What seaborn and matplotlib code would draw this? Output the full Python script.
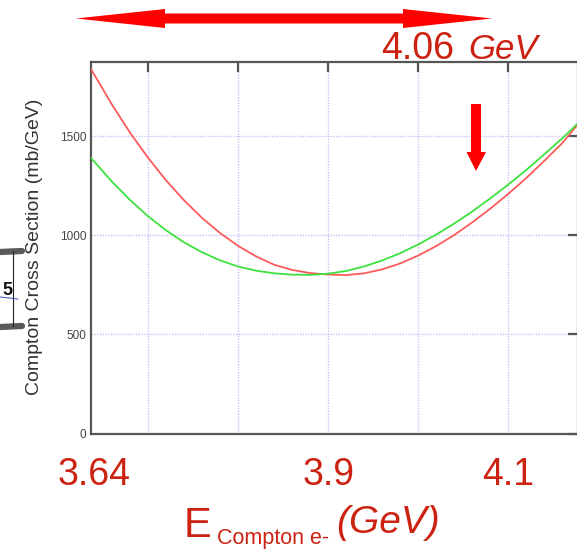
import matplotlib
matplotlib.use("Agg")
import matplotlib.pyplot as plt
from matplotlib.patches import Polygon
from matplotlib.lines import Line2D
import seaborn as sns
import pandas as pd

# ---- data ----
energy = [3.636, 3.66, 3.68, 3.70, 3.72, 3.74, 3.76, 3.78, 3.80, 3.82, 3.84, 3.86,
          3.88, 3.90, 3.92, 3.94, 3.96, 3.98, 4.00, 4.02, 4.04, 4.06, 4.08, 4.10,
          4.12, 4.14, 4.16, 4.176]
red_curve = [1845, 1660, 1519, 1392, 1278, 1177, 1088, 1012, 947, 894, 852, 826,
             810, 803, 800, 809, 829, 859, 899, 947, 1003, 1067, 1136, 1211,
             1291, 1378, 1468, 1556]
green_curve = [1395, 1271, 1179, 1097, 1026, 965, 915, 874, 843, 822, 809, 802,
               801, 807, 821, 844, 874, 911, 955, 1005, 1061, 1122, 1188, 1258,
               1332, 1411, 1492, 1562]
series_names = ["red", "green"]
xtick_marks = [3.7, 3.8, 3.9, 4.0, 4.1]
xtick_red_labels = [3.64, 3.9, 4.1]
yticks = [0, 500, 1000, 1500]
ylabel = "Compton Cross Section (mb/GeV)"
marker_text = "4.06"

df = pd.DataFrame({
    "energy": energy * 2,
    "xsec": red_curve + green_curve,
    "series": [series_names[0]] * len(energy) + [series_names[1]] * len(energy),
})

W, H = 577, 549
sns.set_theme(style="white")
plt.rcParams["font.family"] = ["Liberation Sans", "DejaVu Sans"]

fig = plt.figure(figsize=(W / 100, H / 100), dpi=100)

def fx(x):
    return x / W

def fy(y):
    return 1 - y / H

ax_left, ax_right, ax_top, ax_bot = 90.7, 577.6, 62.0, 433.5
ax = fig.add_axes([fx(ax_left), fy(ax_bot), (ax_right - ax_left) / W, (ax_bot - ax_top) / H])

sns.lineplot(data=df, x="energy", y="xsec", hue="series",
             palette={"red": "#ff5a5a", "green": "#3ee23e"},
             linewidth=1.3, legend=False, ax=ax, zorder=3)

ax.set_xlim(3.6363, 4.1767)
ax.set_ylim(0, 1876)

ax.set_xticks(xtick_marks)
ax.set_xticklabels([])
ax.set_xticks(xtick_red_labels, minor=True)
ax.set_xticklabels([f"{v:g}" for v in xtick_red_labels], minor=True)
ax.xaxis.remove_overlapping_locs = False
ax.set_yticks(yticks)
ax.set_yticklabels([str(v) for v in yticks])

ax.tick_params(axis="both", which="major", direction="in", length=7, width=1.6,
               color="#555555", top=True, right=True, labelsize=8.5,
               labelcolor="#444444", pad=3)
ax.tick_params(axis="x", which="minor", length=0, labelsize=27,
               labelcolor="#cc2211", pad=17, bottom=True, top=False)

ax.grid(True, which="major", color="#c4c4f4", linestyle=(0, (1, 1)), linewidth=1.0)
for s in ax.spines.values():
    s.set_visible(True)
    s.set_color("#555555")
    s.set_linewidth(1.6)

ax.set_xlabel("")
ax.set_ylabel(ylabel, fontsize=14, color="#333333", va="center")
ax.yaxis.set_label_coords((35 - ax_left) / (ax_right - ax_left),
                          (ax_bot - 247) / (ax_bot - ax_top))

# ---- x-axis annotation label ----
red = "#cc2211"
fig.text(fx(184), fy(537), "E", fontsize=30, color=red, ha="left", va="baseline")
fig.text(fx(217), fy(544), "Compton e-", fontsize=15.5, color=red, ha="left", va="baseline")
fig.text(fx(336), fy(533), "(GeV)", fontsize=28, color=red, ha="left", va="baseline",
         style="italic")

# ---- top annotation ----
fig.text(fx(381), fy(59), marker_text, fontsize=27, color=red, ha="left", va="baseline")
fig.text(fx(468), fy(59), "GeV", fontsize=25, color=red, ha="left", va="baseline",
         style="italic")

# double arrow
dbl = [(76, 18.5), (165, 9), (165, 13.5), (403, 13.5), (403, 9), (492, 18.5),
       (403, 28), (403, 23.5), (165, 23.5), (165, 28)]
fig.patches.append(Polygon([(fx(x), fy(y)) for x, y in dbl], closed=True,
                           transform=fig.transFigure, facecolor="#ff0000",
                           edgecolor="none"))
# down arrow
down = [(471, 104), (481, 104), (481, 152), (486, 152), (476, 171), (466.5, 152), (471, 152)]
fig.patches.append(Polygon([(fx(x), fy(y)) for x, y in down], closed=True,
                           transform=fig.transFigure, facecolor="#ff0000",
                           edgecolor="none"))

# ---- fragment of another picture at the left edge ----
for (x0, y0, x1, y1, lw, c) in [(0, 252, 22, 251, 4.5, "#5a5a5a"),
                                (0, 327, 22, 326, 4.5, "#5a5a5a"),
                                (13, 251, 13, 326, 0.8, "#222222"),
                                (0, 297, 18, 299, 0.7, "#3050c0")]:
    fig.lines.append(Line2D([fx(x0), fx(x1)], [fy(y0), fy(y1)], lw=lw, color=c,
                            transform=fig.transFigure))
fig.text(fx(7), fy(295), "5", fontsize=13, color="#111111", ha="center", va="baseline",
         fontweight="bold")

fig.savefig("out.png", dpi=100)
